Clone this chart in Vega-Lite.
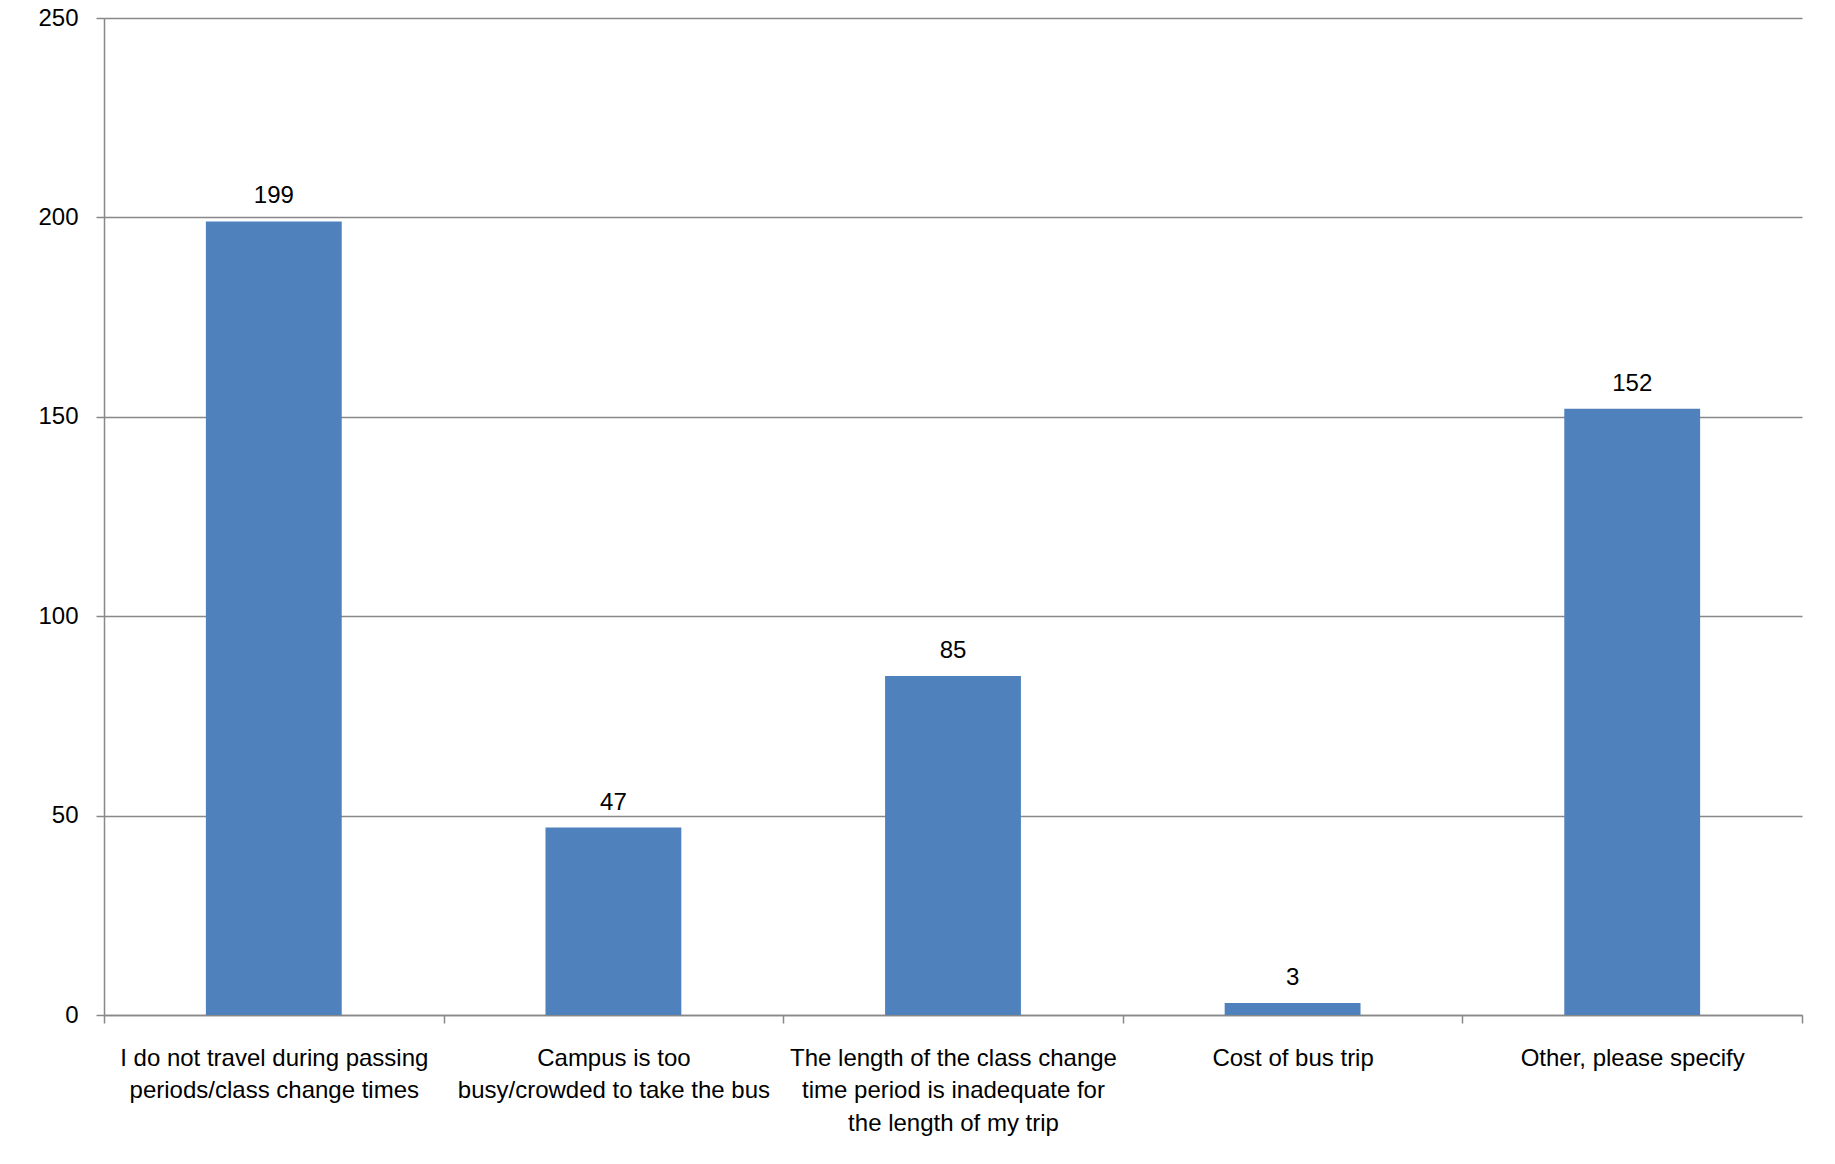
{
  "$schema": "https://vega.github.io/schema/vega-lite/v6.json",
  "autosize": {"type": "none"},
  "padding": {"left": 104, "top": 18, "right": 33, "bottom": 149},
  "width": 1698,
  "height": 997,
  "background": "white",
  "config": {
    "view": {"stroke": null},
    "font": "Liberation Sans",
    "axis": {"labelFont": "Liberation Sans", "labelColor": "black", "labelFontSize": 24, "domainColor": "#888888", "tickColor": "#888888", "gridColor": "#888888", "domainWidth": 1.5, "tickWidth": 1.5, "gridWidth": 1.5}
  },
  "data": {
    "values": [
      {"reason": "I do not travel during passing periods/class change times", "count": 199},
      {"reason": "Campus is too busy/crowded to take the bus", "count": 47},
      {"reason": "The length of the class change time period is inadequate for the length of my trip", "count": 85},
      {"reason": "Cost of bus trip", "count": 3},
      {"reason": "Other, please specify", "count": 152}
    ]
  },
  "encoding": {
    "x": {"field": "reason", "type": "nominal", "sort": null, "title": null,
      "scale": {"paddingInner": 0, "paddingOuter": 0},
      "axis": {"tickBand": "extent", "tickSize": 8, "labelAngle": 0, "labelPadding": 23, "labelBaseline": "top", "labelLineHeight": 32.5, "labelLimit": 400,
        "labelExpr": "datum.value == 'I do not travel during passing periods/class change times' ? ['I do not travel during passing', 'periods/class change times'] : datum.value == 'Campus is too busy/crowded to take the bus' ? ['Campus is too', 'busy/crowded to take the bus'] : datum.value == 'The length of the class change time period is inadequate for the length of my trip' ? ['The length of the class change', 'time period is inadequate for', 'the length of my trip'] : datum.value"}},
    "y": {"field": "count", "type": "quantitative", "title": null,
      "scale": {"domain": [0, 250]},
      "axis": {"values": [0, 50, 100, 150, 200, 250], "tickSize": 8, "labelPadding": 18, "grid": true}}
  },
  "layer": [
    {
      "mark": {"type": "bar", "color": "#4F81BD", "width": {"band": 0.4}}
    },
    {
      "mark": {"type": "text", "fontSize": 24, "color": "black", "baseline": "alphabetic", "dy": -18},
      "encoding": {
        "text": {"field": "count", "type": "quantitative"}
      }
    }
  ]
}
